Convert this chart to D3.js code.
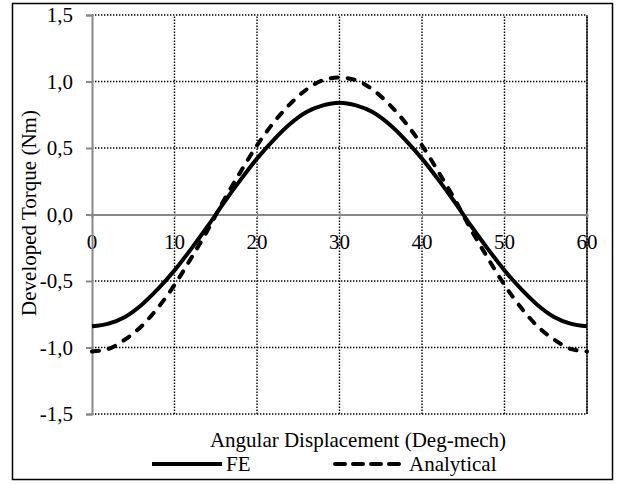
<!DOCTYPE html>
<html>
<head>
<meta charset="utf-8">
<script src="https://cdn.jsdelivr.net/npm/d3@7"></script>
<style>
  body { margin: 0; background: #fff; }
  text { font-family: "Times New Roman", "Liberation Serif", serif; fill: #000; }
</style>
</head>
<body>
<script>
// angle in deg-mech
var angles = [0, 2, 4, 6, 8, 10, 12, 14, 16, 18, 20, 22, 24, 26, 28, 30,
              32, 34, 36, 38, 40, 42, 44, 46, 48, 50, 52, 54, 56, 58, 60]
var feTorque = [-0.84, -0.82, -0.77, -0.68, -0.56, -0.42, -0.26, -0.09, 0.09, 0.26, 0.42, 0.56, 0.68, 0.77, 0.82, 0.84,
                0.82, 0.77, 0.68, 0.56, 0.42, 0.26, 0.09, -0.09, -0.26, -0.42, -0.56, -0.68, -0.77, -0.82, -0.84]
var analyticalTorque = [-1.03, -1.01, -0.94, -0.84, -0.70, -0.53, -0.33, -0.12, 0.11, 0.32, 0.52, 0.69, 0.83, 0.94, 1.01, 1.03,
                        1.01, 0.94, 0.83, 0.69, 0.52, 0.32, 0.11, -0.12, -0.33, -0.53, -0.70, -0.84, -0.94, -1.01, -1.03]
var xTicks = [0, 10, 20, 30, 40, 50, 60]
var yTicks = [-1.5, -1, -0.5, 0, 0.5, 1, 1.5]
var seriesNames = ['FE', 'Analytical']

var width = 618, height = 484
var fontSize = '21px'
var svg = d3.select('body').append('svg')
    .attr('width', width)
    .attr('height', height)

// outer frame
svg.append('rect')
  .attr('x', 12.5).attr('y', 3.5)
  .attr('width', 600).attr('height', 476)
  .attr('fill', 'none')
  .attr('stroke', '#000')
  .attr('stroke-width', 1.5)

var x = d3.scaleLinear().domain([0, 60]).range([92, 587])
var y = d3.scaleLinear().domain([-1.5, 1.5]).range([414, 15])

var fmt = function(v) { return d3.format('.1f')(v).replace('.', ',').replace('−', '-') }

// dotted grid
var grid = svg.append('g')
grid.selectAll('line.hgrid')
  .data(yTicks.filter(function(d) { return d !== 0 }))
  .enter().append('line')
    .attr('class', 'hgrid')
    .attr('x1', x(0)).attr('x2', x(60))
    .attr('y1', function(d) { return y(d) }).attr('y2', function(d) { return y(d) })
    .attr('stroke', '#000').attr('stroke-width', 1.4)
    .attr('stroke-dasharray', '1.4,1.6')
grid.selectAll('line.vgrid')
  .data(xTicks.filter(function(d) { return d !== 0 }))
  .enter().append('line')
    .attr('class', 'vgrid')
    .attr('y1', y(-1.5)).attr('y2', y(1.5))
    .attr('x1', function(d) { return x(d) }).attr('x2', function(d) { return x(d) })
    .attr('stroke', '#000').attr('stroke-width', 1.4)
    .attr('stroke-dasharray', '1.4,1.6')

// right edge
svg.append('line')
  .attr('x1', x(60)).attr('x2', x(60))
  .attr('y1', y(-1.5)).attr('y2', y(1.5))
  .attr('stroke', '#000').attr('stroke-width', 1.2)

// zero line (x axis) with crossing ticks
var xAxis = d3.axisBottom(x).tickValues(xTicks).tickSize(3).tickFormat('')
svg.append('g')
  .attr('transform', 'translate(0,' + y(0) + ')')
  .call(xAxis)
  .call(function(g) {
    g.select('.domain').attr('stroke', '#888').attr('stroke-width', 2)
    g.selectAll('.tick line').attr('stroke', '#888').attr('y1', -3)
  })

// x tick labels under the zero line
svg.append('g').selectAll('text')
  .data(xTicks)
  .enter().append('text')
    .attr('x', function(d) { return x(d) })
    .attr('y', y(0) + 34)
    .attr('text-anchor', 'middle')
    .style('font-size', fontSize)
    .text(function(d) { return d })

// y axis
var yAxis = d3.axisLeft(y).tickValues(yTicks).tickSize(6).tickPadding(13).tickFormat(fmt)
svg.append('g')
  .attr('transform', 'translate(' + x(0) + ',0)')
  .call(yAxis)
  .call(function(g) {
    g.select('.domain').attr('stroke', '#888').attr('stroke-width', 2)
    g.selectAll('.tick line').attr('stroke', '#888').attr('stroke-width', 2)
    g.selectAll('.tick text')
      .attr('fill', '#000')
      .style('font-family', '"Times New Roman", "Liberation Serif", serif')
      .style('font-size', fontSize)
  })

// series
var line = d3.line()
  .x(function(d) { return x(d[0]) })
  .y(function(d) { return y(d[1]) })
  .curve(d3.curveMonotoneX)

svg.append('path')
  .datum(d3.zip(angles, feTorque))
  .attr('d', line)
  .attr('fill', 'none')
  .attr('stroke', '#000')
  .attr('stroke-width', 4)

svg.append('path')
  .datum(d3.zip(angles, analyticalTorque))
  .attr('d', line)
  .attr('fill', 'none')
  .attr('stroke', '#000')
  .attr('stroke-width', 4)
  .attr('stroke-linecap', 'round')
  .attr('stroke-dasharray', '7,10')

// axis titles
svg.append('text')
  .attr('x', 358).attr('y', 447)
  .attr('text-anchor', 'middle')
  .style('font-size', fontSize)
  .text('Angular Displacement (Deg-mech)')

svg.append('text')
  .attr('transform', 'translate(36,213) rotate(-90)')
  .attr('text-anchor', 'middle')
  .style('font-size', fontSize)
  .text('Developed Torque (Nm)')

// legend
var legend = svg.append('g')
var legendX = [152, 335]
legend.selectAll('line')
  .data(seriesNames)
  .enter().append('line')
    .attr('x1', function(d, i) { return legendX[i] })
    .attr('x2', function(d, i) { return legendX[i] + 70 })
    .attr('y1', 464).attr('y2', 464)
    .attr('stroke', '#000')
    .attr('stroke-width', 4)
    .attr('stroke-linecap', function(d, i) { return i ? 'round' : 'butt' })
    .attr('stroke-dasharray', function(d, i) { return i ? '10,8' : null })
legend.selectAll('text')
  .data(seriesNames)
  .enter().append('text')
    .attr('x', function(d, i) { return legendX[i] + 74 })
    .attr('y', 471)
    .style('font-size', fontSize)
    .text(function(d) { return d })
</script>
</body>
</html>
